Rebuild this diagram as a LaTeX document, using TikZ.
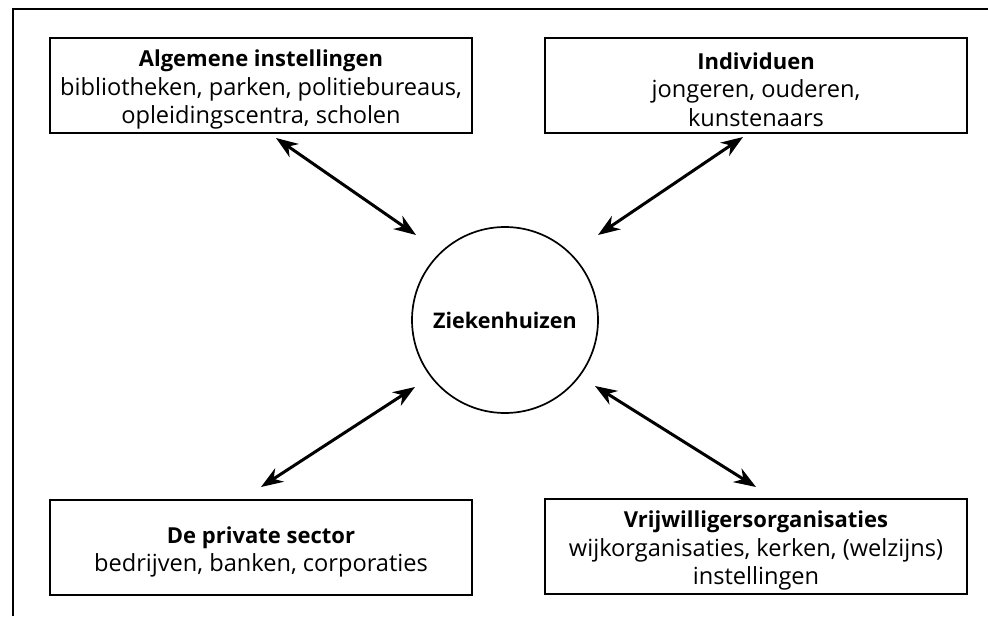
\documentclass[tikz,border=0pt]{standalone}
\usepackage{fontspec}
\setmainfont{Open Sans}
\usetikzlibrary{arrows.meta}
\newcommand{\hd}[1]{{\fontsize{22}{28.5}\selectfont\bfseries #1}}
\tikzset{
  boxnode/.style={draw, line width=2pt, minimum width=422pt, minimum height=95pt, inner sep=0pt},
  boxtext/.style={inner sep=0pt, align=center, font=\fontsize{23.6}{28.5}\selectfont},
  hubnode/.style={draw, circle, line width=1.7pt, minimum size=186pt, inner sep=0pt,
    font=\fontsize{21.5}{28}\selectfont\bfseries},
  link/.style={line width=3pt, {Stealth[length=22pt,width=16pt,inset=7pt]}-{Stealth[length=22pt,width=16pt,inset=7pt]}},
  frame/.style={line width=2pt}
}
\begin{document}
\begin{tikzpicture}[x=1pt,y=-1pt]
\useasboundingbox (0,0) rectangle (988,616);
\coordinate (fbl) at (13,616);
\coordinate (ftl) at (13,9);
\coordinate (ftr) at (988,9);
\draw[frame] (fbl) -- (ftl) -- (ftr);

\node[boxnode] (alg) at (261,85.5) {};
\node[boxnode] (ind) at (756,85.5) {};
\node[boxnode] (pri) at (261,547) {};
\node[boxnode] (vri) at (756,546.5) {};
\node[boxtext] (algt) at ([yshift=-4pt]alg.center) {\hd{Algemene instellingen}\\bibliotheken, parken, politiebureaus,\\opleidingscentra, scholen};
\node[boxtext] (indt) at ([yshift=-4pt]ind.center) {\hd{Individuen}\\jongeren, ouderen,\\kunstenaars};
\node[boxtext] (prit) at ([yshift=-5pt]pri.center) {\hd{De private sector}\\bedrijven, banken, corporaties};
\node[boxtext] (vrit) at ([yshift=-4pt]vri.center) {\hd{Vrijwilligersorganisaties}\\wijkorganisaties, kerken, (welzijns)\\instellingen};
\node[hubnode] (zie) at (505,320) {Ziekenhuizen};

\coordinate (a1s) at (276,138);
\coordinate (a1e) at (416,235);
\coordinate (a2s) at (743,137);
\coordinate (a2e) at (598,235);
\coordinate (a3s) at (415,387);
\coordinate (a3e) at (261,487);
\coordinate (a4s) at (595,386);
\coordinate (a4e) at (756,487);
\draw[link] (a1s) -- (a1e);
\draw[link] (a2s) -- (a2e);
\draw[link] (a3s) -- (a3e);
\draw[link] (a4s) -- (a4e);
\end{tikzpicture}
\end{document}
